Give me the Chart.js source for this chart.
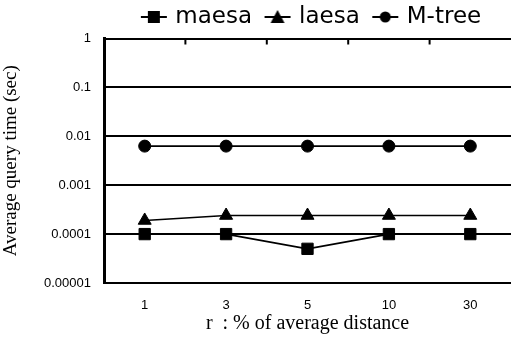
<!DOCTYPE html>
<html>
<head>
<meta charset="utf-8">
<script src="https://cdn.jsdelivr.net/npm/chart.js@4"></script>
<style>
  html, body { margin: 0; padding: 0; overflow: hidden; background: #fff; }
  #wrap { width: 520px; height: 340px; }
</style>
</head>
<body>
<div id="wrap"><canvas id="chart-1" width="520" height="340"></canvas></div>
<script>
// x categories (r : % of average distance)
const categories = ["1", "3", "5", "10", "30"];
// y values, seconds
const maesa = [0.0001, 0.0001, 0.00005, 0.0001, 0.0001];
const laesa = [0.00019, 0.00024, 0.00024, 0.00024, 0.00024];
const mtree = [0.0063, 0.0063, 0.0063, 0.0063, 0.0063];
const yTicks = [1, 0.1, 0.01, 0.001, 0.0001, 0.00001];

// legend icon: line with marker; left part transparent so the gap to the text stays small
function legendIcon(style) {
    const c = document.createElement('canvas');
    c.width = 44; c.height = 16;
    const g = c.getContext('2d');
    g.strokeStyle = '#000'; g.fillStyle = '#000'; g.lineWidth = 2;
    g.beginPath(); g.moveTo(14, 8); g.lineTo(40, 8); g.stroke();
    g.beginPath();
    if (style === 'rect') g.rect(21, 2, 12, 12);
    else if (style === 'triangle') { g.moveTo(27, 1); g.lineTo(34, 14); g.lineTo(20, 14); g.closePath(); }
    else g.arc(27, 8, 5.5, 0, Math.PI * 2);
    g.fill();
    return c;
}

// tick marks on the top edge, between categories
const topTicks = {
    id: 'topTicks',
    afterDatasetsDraw(chart) {
        const x = chart.scales.x, top = chart.chartArea.top, g = chart.ctx;
        g.save();
        g.strokeStyle = '#000'; g.lineWidth = 2;
        for (let i = 0; i < categories.length - 1; i++) {
            const px = (x.getPixelForValue(i) + x.getPixelForValue(i + 1)) / 2;
            g.beginPath(); g.moveTo(px, top); g.lineTo(px, top + 6); g.stroke();
        }
        g.restore();
    }
};

const ctx = document.getElementById('chart-1').getContext('2d');
const chart_1 = new Chart(ctx,
    {
        type: 'line',
        data: {
            labels: categories,
            datasets: [
                { label: 'maesa', data: maesa, pointStyle: 'rect', pointRadius: 8 },
                { label: 'laesa', data: laesa, pointStyle: 'triangle', pointRadius: 7.5 },
                { label: 'M-tree', data: mtree, pointStyle: 'circle', pointRadius: 6 }
            ].map(d => Object.assign(d, {
                borderColor: '#000', backgroundColor: '#000',
                borderWidth: 1.6, pointBorderWidth: 1, pointHoverRadius: d.pointRadius
            }))
        },
        options: {
            responsive: false,
            animation: false,
            layout: { padding: { left: 0, right: 5, top: 0, bottom: 4 } },
            plugins: {
                tooltip: { enabled: false },
                legend: {
                    position: 'top',
                    fullSize: false,
                    labels: {
                        usePointStyle: true,
                        pointStyleWidth: 30,
                        color: '#000',
                        padding: 5.5,
                        font: { family: 'DejaVu Sans', size: 23 },
                        generateLabels(chart) {
                            return chart.data.datasets.map((d, i) => ({
                                text: d.label, datasetIndex: i, fontColor: '#000',
                                pointStyle: legendIcon(d.pointStyle), lineWidth: 0
                            }));
                        }
                    }
                }
            },
            scales: {
                x: {
                    offset: true,
                    afterFit(s) { s.height = 53; },
                    grid: { display: false, drawTicks: false },
                    border: { display: false },
                    ticks: { color: '#000', padding: 15, font: { family: 'Liberation Sans', size: 13 } },
                    title: {
                        display: true,
                        text: 'r  : % of average distance',
                        color: '#000',
                        padding: { top: 5, bottom: 0 },
                        font: { family: 'Liberation Serif', size: 20 }
                    }
                },
                y: {
                    type: 'logarithmic',
                    min: 0.00001,
                    max: 1,
                    afterFit(s) { s.width = 104; },
                    afterBuildTicks(scale) { scale.ticks = yTicks.map(v => ({ value: v })); },
                    grid: { color: '#000', lineWidth: 2, drawTicks: false },
                    border: { color: '#000', width: 3 },
                    ticks: {
                        color: '#000', padding: 13,
                        font: { family: 'Liberation Sans', size: 13 },
                        callback: v => String(v)
                    },
                    title: {
                        display: true,
                        text: 'Average query time (sec)',
                        color: '#000',
                        padding: { top: 0, bottom: 4 },
                        font: { family: 'Liberation Serif', size: 19 }
                    }
                }
            }
        },
        plugins: [topTicks]
    }
)
</script>
</body>
</html>
